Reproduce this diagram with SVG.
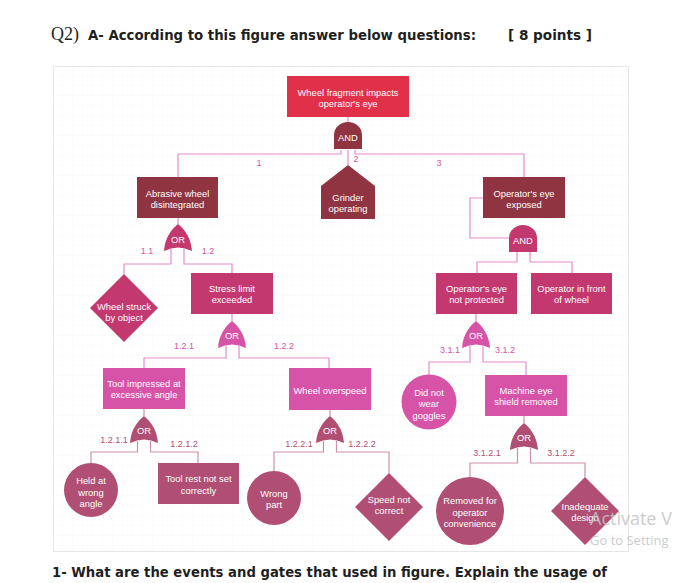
<svg xmlns="http://www.w3.org/2000/svg" width="676" height="583" viewBox="0 0 676 583">
<defs>
<style>
.hdr{font-family:"DejaVu Sans","Verdana",sans-serif;font-weight:bold;font-size:14px;fill:#1f1f1f}
.q{font-family:"Liberation Serif","Times New Roman",serif;font-size:18px;fill:#1f1f1f}
.t{font-family:"Liberation Sans",Arial,sans-serif;font-size:9.4px;fill:#ffffff;text-anchor:middle}
.g{font-family:"Liberation Sans",Arial,sans-serif;font-size:9.4px;fill:#ffffff;text-anchor:middle}
.lp{font-family:"Liberation Sans",Arial,sans-serif;font-size:9px;fill:#d654a6;text-anchor:middle}
.lm{font-family:"Liberation Sans",Arial,sans-serif;font-size:9px;fill:#b04f78;text-anchor:middle}
.cp{fill:none;stroke:#e58ccf;stroke-width:1.2}
.cm{fill:none;stroke:#cf8fae;stroke-width:1.2}
.red{fill:#e0304a}
.mar{fill:#8f3440}
.mag{fill:#c2386f}
.pnk{fill:#d653a8}
.mau{fill:#b04f73}
.wm{font-family:"Open Sans","Liberation Sans",sans-serif;fill:#c4c4c4}
</style>
<pattern id="grid" width="10" height="10" patternUnits="userSpaceOnUse" x="53" y="66">
<path d="M10,0 V10 M0,10 H10" fill="none" stroke="#f9f9f9" stroke-width="1"/>
</pattern>
<path id="or" d="M0,27 C1,13 8,5 14,0 C20,5 27,13 28,27 Q14,20 0,27 Z"/>
<path id="and" d="M0,27 V13 A14,13 0 0 1 28,13 V27 Z"/>
</defs>
<rect width="676" height="583" fill="#ffffff"/>
<text class="q" x="51" y="40">Q2)</text>
<text class="hdr" x="88" y="40" textLength="388" lengthAdjust="spacingAndGlyphs">A- According to this figure answer below questions:</text>
<text class="hdr" x="508" y="40" textLength="84" lengthAdjust="spacingAndGlyphs">[ 8 points ]</text>
<rect x="53.5" y="66.5" width="575" height="485" fill="url(#grid)" stroke="#e6e6e6" stroke-width="1"/>

<g id="connectors">
<path class="cp" d="M348,117 V122"/>
<path class="cp" d="M341,150 V154 H178 V177"/>
<path class="cp" d="M348,150 V165"/>
<path class="cp" d="M355,150 V154 H524 V177"/>
<path class="cp" d="M178,218 V224"/>
<path class="cp" d="M171,249 V264 H124 V274"/>
<path class="cp" d="M184,249 V264 H232 V273"/>
<path class="cp" d="M483,198 H470 V238 H510"/>
<path class="cp" d="M517,252 V262 H477 V273"/>
<path class="cp" d="M530,252 V262 H572 V273"/>
<path class="cp" d="M232,314 V321"/>
<path class="cp" d="M226,346 V358 H144 V368"/>
<path class="cp" d="M239,346 V358 H329 V368"/>
<path class="cp" d="M476,314 V321"/>
<path class="cp" d="M470,346 V362 H429 V375"/>
<path class="cp" d="M483,346 V362 H526 V375"/>
<path class="cm" d="M144,409 V416"/>
<path class="cm" d="M137.5,441 V452 H91 V463"/>
<path class="cm" d="M150.5,441 V452 H198 V463"/>
<path class="cm" d="M330,410 V416"/>
<path class="cm" d="M323.5,441 V452 H274 V471"/>
<path class="cm" d="M336.5,441 V452 H389 V473"/>
<path class="cm" d="M524,416 V423"/>
<path class="cm" d="M517.5,448 V463 H470 V477"/>
<path class="cm" d="M530.5,448 V463 H585 V477"/>
<text class="lp" x="259" y="166">1</text>
<text class="lp" x="356" y="162">2</text>
<text class="lp" x="439" y="166">3</text>
<text class="lp" x="147" y="254">1.1</text>
<text class="lp" x="208" y="254">1.2</text>
<text class="lp" x="184" y="349">1.2.1</text>
<text class="lp" x="284" y="349">1.2.2</text>
<text class="lp" x="450" y="353">3.1.1</text>
<text class="lp" x="505" y="353">3.1.2</text>
<text class="lm" x="114" y="443">1.2.1.1</text>
<text class="lm" x="184" y="447">1.2.1.2</text>
<text class="lm" x="299" y="447">1.2.2.1</text>
<text class="lm" x="362" y="447">1.2.2.2</text>
<text class="lm" x="487" y="456">3.1.2.1</text>
<text class="lm" x="561" y="456">3.1.2.2</text>
</g>

<g id="top-event">
<rect class="red" x="287" y="76" width="122" height="41"/>
<text class="t" x="348" y="95.5">Wheel fragment impacts</text>
<text class="t" x="348" y="106.5">operator's eye</text>
</g>
<g id="gate-and-1">
<use href="#and" class="mar" x="334" y="122"/>
<text class="g" x="348" y="141">AND</text>
</g>
<g id="abrasive-wheel">
<rect class="mar" x="137" y="177" width="81" height="41"/>
<text class="t" x="177.5" y="196.5">Abrasive wheel</text>
<text class="t" x="177.5" y="207.5">disintegrated</text>
</g>
<g id="grinder-operating">
<path class="mar" d="M348,165 L375,186 V219 H321 V186 Z"/>
<text class="t" x="348" y="201">Grinder</text>
<text class="t" x="348" y="212">operating</text>
</g>
<g id="eye-exposed">
<rect class="mar" x="483" y="177" width="82" height="41"/>
<text class="t" x="524" y="197">Operator's eye</text>
<text class="t" x="524" y="208">exposed</text>
</g>
<g id="gate-or-1">
<use href="#or" class="mag" x="164" y="224"/>
<text class="g" x="178" y="243">OR</text>
</g>
<g id="gate-and-2">
<use href="#and" class="mag" x="509" y="225"/>
<text class="g" x="523" y="244">AND</text>
</g>
<g id="wheel-struck">
<path class="mag" d="M124,274 L158,308 L124,342 L90,308 Z"/>
<text class="t" x="124" y="310">Wheel struck</text>
<text class="t" x="124" y="321">by object</text>
</g>
<g id="stress-limit">
<rect class="mag" x="191" y="273" width="82" height="41"/>
<text class="t" x="232" y="292">Stress limit</text>
<text class="t" x="232" y="303">exceeded</text>
</g>
<g id="eye-not-protected">
<rect class="mag" x="436" y="273" width="81" height="41"/>
<text class="t" x="476.5" y="292">Operator's eye</text>
<text class="t" x="476.5" y="303">not protected</text>
</g>
<g id="in-front-of-wheel">
<rect class="mag" x="531" y="273" width="81" height="41"/>
<text class="t" x="571.5" y="292">Operator in front</text>
<text class="t" x="571.5" y="303">of wheel</text>
</g>
<g id="gate-or-2">
<use href="#or" class="pnk" x="218" y="321"/>
<text class="g" x="232" y="339">OR</text>
</g>
<g id="gate-or-3">
<use href="#or" class="pnk" x="462" y="321"/>
<text class="g" x="476" y="339">OR</text>
</g>
<g id="tool-impressed">
<rect class="pnk" x="103" y="368" width="82" height="41"/>
<text class="t" x="144" y="386.5">Tool impressed at</text>
<text class="t" x="144" y="398">excessive angle</text>
</g>
<g id="wheel-overspeed">
<rect class="pnk" x="289" y="368" width="82" height="42"/>
<text class="t" x="330" y="394">Wheel overspeed</text>
</g>
<g id="did-not-wear-goggles">
<circle class="pnk" cx="429" cy="402" r="27.5"/>
<text class="t" x="429" y="396">Did not</text>
<text class="t" x="429" y="407">wear</text>
<text class="t" x="429" y="419">goggles</text>
</g>
<g id="eye-shield-removed">
<rect class="pnk" x="485" y="375" width="82" height="41"/>
<text class="t" x="526" y="394">Machine eye</text>
<text class="t" x="526" y="405">shield removed</text>
</g>
<g id="gate-or-4">
<use href="#or" class="mau" x="130" y="416"/>
<text class="g" x="144" y="434">OR</text>
</g>
<g id="gate-or-5">
<use href="#or" class="mau" x="316" y="416"/>
<text class="g" x="330" y="434">OR</text>
</g>
<g id="gate-or-6">
<use href="#or" class="mau" x="510" y="423"/>
<text class="g" x="524" y="441">OR</text>
</g>
<g id="held-wrong-angle">
<circle class="mau" cx="91" cy="490" r="27"/>
<text class="t" x="91" y="484">Held at</text>
<text class="t" x="91" y="495.5">wrong</text>
<text class="t" x="91" y="506.5">angle</text>
</g>
<g id="tool-rest">
<rect class="mau" x="158" y="463" width="81" height="41"/>
<text class="t" x="198.5" y="482">Tool rest not set</text>
<text class="t" x="198.5" y="494">correctly</text>
</g>
<g id="wrong-part">
<circle class="mau" cx="274" cy="498" r="27"/>
<text class="t" x="274" y="496.5">Wrong</text>
<text class="t" x="274" y="507.5">part</text>
</g>
<g id="speed-not-correct">
<path class="mau" d="M389,473 L423,507 L389,541 L355,507 Z"/>
<text class="t" x="389" y="503">Speed not</text>
<text class="t" x="389" y="514">correct</text>
</g>
<g id="removed-for-convenience">
<circle class="mau" cx="470" cy="511" r="34"/>
<text class="t" x="470" y="504">Removed for</text>
<text class="t" x="470" y="515.5">operator</text>
<text class="t" x="470" y="526.5">convenience</text>
</g>
<g id="inadequate-design">
<path class="mau" d="M585,477 L619,511 L585,545 L551,511 Z"/>
<text class="t" x="585" y="510">Inadequate</text>
<text class="t" x="585" y="521">design</text>
</g>

<text class="wm" x="590" y="525" font-size="18" opacity="0.85">Activate V</text>
<text class="wm" x="590" y="545" font-size="13" opacity="0.85">Go to Setting</text>

<text class="hdr" x="52" y="577" textLength="555" lengthAdjust="spacingAndGlyphs">1- What are the events and gates that used in figure. Explain the usage of</text>
</svg>
